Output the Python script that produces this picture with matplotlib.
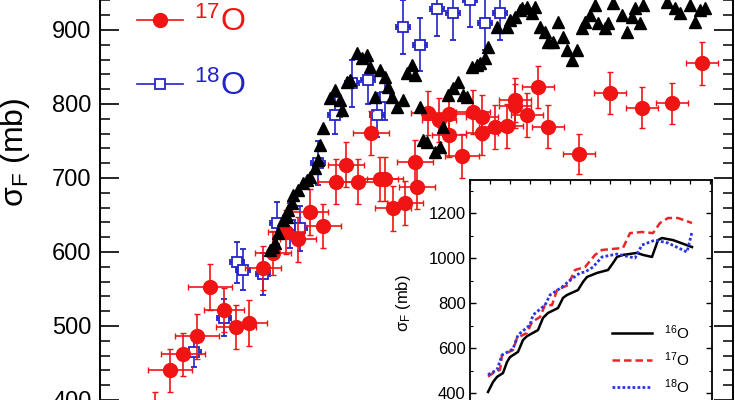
import matplotlib
matplotlib.use("Agg")
import matplotlib.pyplot as plt
from matplotlib.lines import Line2D
from matplotlib.ticker import MultipleLocator
import numpy as np

plt.rcParams['font.family'] = ['Liberation Sans', 'DejaVu Sans']
plt.rcParams['mathtext.fontset'] = 'custom'
plt.rcParams['mathtext.rm'] = 'Liberation Sans'
plt.rcParams['mathtext.it'] = 'Liberation Sans'
plt.rcParams['mathtext.default'] = 'regular'

# ---------------- main panel data (energy in arbitrary MeV-like units, sigma in mb)
E16 = [13.5, 13.65, 13.75, 13.9, 14.15, 14.35, 14.4, 14.6, 14.65, 14.9,
       15.15, 15.35, 15.5, 15.75, 15.9, 16.0, 16.15, 16.5, 16.75, 17.0,
       17.1, 17.35, 17.5, 17.85, 18.1, 18.35, 18.5, 18.75, 19.0, 19.25,
       19.4, 19.6, 19.85, 20.15, 20.35, 20.6, 20.75, 21.0, 21.15, 21.35,
       21.75, 22.0, 22.15, 22.4, 22.65, 22.9, 23.15, 23.35, 23.6, 23.85,
       24.0, 24.25, 24.4, 24.85, 25.35, 25.5, 25.75, 26.0, 26.1, 26.35,
       26.6, 26.75, 27.0, 27.25, 27.4, 27.65, 27.9, 28.15, 28.35, 28.6,
       28.85, 29.1, 29.25, 29.5, 29.75, 29.9, 30.25, 30.4, 30.65, 31.1,
       31.35, 31.6, 31.75, 32.0, 32.15, 33.35, 33.75, 34.0, 34.5, 34.75,
       35.0, 35.25]
S16 = [603, 607, 612, 626, 643, 647, 657, 666, 677, 684,
       693, 697, 701, 713, 724, 745, 768, 808, 819, 805,
       792, 830, 832, 869, 862, 866, 850, 809, 846, 836,
       823, 809, 796, 805, 842, 853, 839, 796, 751, 749,
       735, 742, 769, 812, 822, 830, 812, 809, 850, 853,
       855, 862, 877, 904, 904, 913, 918, 927, 930, 931,
       923, 931, 904, 897, 884, 884, 911, 891, 873, 859,
       873, 903, 911, 920, 934, 909, 903, 909, 936, 920,
       897, 918, 930, 909, 934, 938, 930, 923, 934, 911,
       927, 930]

E17 = [7.75, 8.5, 9.15, 9.85, 10.5, 11.2, 11.8, 12.45, 13.15, 13.65,
       14.3, 14.9, 15.5, 16.15, 16.8, 17.3, 17.9, 18.55, 19.0, 19.25,
       19.65, 20.25, 20.75, 20.85, 21.4, 21.95, 22.45, 22.45, 23.1, 23.65,
       24.1, 24.1, 24.75, 25.35, 25.75, 25.75, 26.35, 26.9, 27.4, 28.95,
       30.5, 32.1, 33.6, 35.1]
S17 = [381, 440, 462, 486, 553, 522, 499, 504, 578, 599,
       627, 617, 654, 635, 695, 718, 695, 761, 699, 699,
       659, 666, 722, 688, 788, 778, 786, 758, 730, 789,
       782, 761, 769, 770, 805, 797, 785, 823, 769, 732,
       815, 795, 801, 855]
S17_err = [30, 29, 29, 30, 31, 30, 30, 31, 30, 30,
           30, 30, 31, 30, 30, 30, 30, 30, 30, 30,
           30, 30, 30, 30, 30, 30, 30, 30, 30, 30,
           30, 30, 30, 30, 30, 30, 30, 29, 29, 27,
           28, 28, 28, 29]
E17_err = [1.1, 1.1, 1.1, 1.1, 1.1, 1.0, 1.0, 0.9, 0.9, 0.9,
           0.9, 0.9, 0.9, 0.9, 0.9, 0.9, 0.9, 0.9, 0.9, 0.9,
           0.9, 0.9, 0.9, 0.9, 0.85, 0.85, 0.85, 0.85, 0.85, 0.85,
           0.8, 0.8, 0.8, 0.8, 0.8, 0.8, 0.8, 0.8, 0.8, 0.8,
           0.8, 0.8, 0.8, 0.8]

E18 = [9.7, 11.2, 11.85, 12.15, 13.15, 13.85, 14.5, 15.0, 15.9, 16.75,
       17.6, 18.4, 18.85, 19.25, 20.15, 21.0, 21.85, 22.65, 23.5, 24.25,
       25.0]
S18 = [465, 511, 586, 576, 570, 639, 636, 632, 720, 785,
       828, 832, 785, 809, 904, 880, 928, 923, 940, 909,
       923]
S18_err = [20, 25, 28, 28, 28, 28, 30, 30, 30, 25,
           32, 32, 30, 30, 36, 36, 36, 36, 36, 36,
           36]
E18_err = [0.35] * len(E18)

# ---------------- inset data
Ein16 = [1.8, 2.3, 2.7, 3.3, 3.7, 4.0, 4.8, 5.3, 5.7, 6.8, 7.3, 7.8, 8.8, 9.3,
         9.7, 10.8, 11.3, 11.7, 12.7, 13.8, 14.3, 14.7, 15.3, 16.7, 17.3,
         18.2, 18.8, 19.2, 20.3, 22.2]
Sin16 = [406, 450, 473, 490, 539, 561, 584, 637, 654, 681, 735, 757, 779, 824,
         837, 859, 895, 917, 935, 948, 979, 1006, 1015, 1024, 1015,
         1006, 1081, 1090, 1081, 1050]
Ein17 = [1.8, 2.3, 3.0, 3.2, 4.3, 4.7, 5.7, 6.2, 7.0, 7.5, 8.2, 8.7, 9.8, 10.5,
         11.5, 12.5, 13.2, 15.3, 16.0, 17.2, 18.3, 19.0, 19.8, 20.8, 22.2]
Sin17 = [474, 490, 504, 570, 592, 646, 668, 717, 739, 792, 792, 859, 881, 948,
         961, 1015, 1037, 1046, 1112, 1117, 1112, 1157, 1179, 1179, 1157]
Ein18 = [1.8, 2.7, 3.2, 4.3, 4.8, 6.0, 6.3, 7.5, 8.0, 9.2, 10.0, 11.0, 11.5,
         12.3, 13.2, 14.7, 16.5, 17.2, 18.5, 19.8, 21.7, 22.2]
Sin18 = [483, 504, 570, 597, 659, 704, 748, 792, 837, 872, 903, 935, 939,
         961, 1006, 1019, 1001, 1059, 1081, 1068, 1028, 1117]

main_yticks = [400, 500, 600, 700, 800, 900]
inset_yticks = [400, 600, 800, 1000, 1200]

RED = '#f01414'
BLUE = '#2323c8'

fig = plt.figure(figsize=(7.35, 4.0), dpi=100)
W, H = 735.0, 400.0

# main axes: left spine at x=100px, right at 733px; y 380..960 extends past the crop
ax = fig.add_axes([100 / W, -14.8 / H, 633 / W, 429.2 / H])
ax.set_xlim(5, 36.65)
ax.set_ylim(380, 960)

ax.errorbar(E18, S18, yerr=S18_err, xerr=E18_err, fmt='s', ms=7.5, mfc='white',
            mec=BLUE, mew=1.3, ecolor=BLUE, elinewidth=1.2, capsize=2, zorder=2)
ax.errorbar(E17, S17, yerr=S17_err, xerr=E17_err, fmt='o', ms=10, color=RED,
            mec=RED, ecolor=RED, elinewidth=1.2, capsize=2, zorder=3)
ax.plot(E16, S16, '^', color='black', ms=8.5, zorder=4, linestyle='none')

ax.set_yticks(main_yticks)
ax.yaxis.set_minor_locator(MultipleLocator(20))
ax.tick_params(axis='y', which='major', direction='in', length=14, width=1.2,
               labelsize=17, right=True, pad=6)
ax.tick_params(axis='y', which='minor', direction='in', length=7.5, width=1.1,
               right=True)
ax.tick_params(axis='x', bottom=False, labelbottom=False)
for s in ax.spines.values():
    s.set_linewidth(1.4)
ax.set_ylabel(r'$\sigma_F$ (mb)', fontsize=23)
ax.yaxis.set_label_coords(-0.108, 0.612)

handles = [Line2D([], [], color=RED, marker='o', ms=10, lw=1.2),
           Line2D([], [], color=BLUE, marker='s', ms=7.5, mfc='white', mew=1.3, lw=1.2)]
leg = fig.legend(handles, [r'$^{17}$O', r'$^{18}$O'], loc='upper left',
                 bbox_to_anchor=(137 / W, 1 - 7 / H), frameon=False,
                 fontsize=23, handlelength=1.45, handletextpad=0.35,
                 labelspacing=1.02, borderpad=0, borderaxespad=0)
for t, c in zip(leg.get_texts(), [RED, BLUE]):
    t.set_color(c)

# inset axes
ax2 = fig.add_axes([470 / W, -15.8 / H, 242 / W, 235.8 / H])
ax2.set_zorder(10)
ax2.set_facecolor('white')
ax2.set_xlim(0, 24.2)
ax2.set_ylim(300, 1348)
ax2.plot(Ein16, Sin16, color='black', lw=1.8, label=r'$^{16}$O')
ax2.plot(Ein17, Sin17, color='#e8262a', lw=1.8, ls=(0, (3, 1.6)), label=r'$^{17}$O')
ax2.plot(Ein18, Sin18, color='#2a35e0', lw=2.0, ls=(0, (1, 0.8)), label=r'$^{18}$O')
ax2.set_yticks(inset_yticks)
ax2.yaxis.set_minor_locator(MultipleLocator(100))
ax2.xaxis.set_major_locator(MultipleLocator(2))
ax2.tick_params(axis='y', which='major', direction='in', length=4, width=1,
                labelsize=12, pad=3, right=True)
ax2.tick_params(axis='y', which='minor', direction='in', length=2, width=0.8, right=True)
ax2.tick_params(axis='x', which='major', direction='in', length=3, width=0.9,
                top=True, bottom=False, labelbottom=False)
for s in ax2.spines.values():
    s.set_linewidth(1.3)
ax2.set_ylabel(r'$\sigma_F$ (mb)', fontsize=12)
ax2.yaxis.set_label_coords(-0.236, 0.478)
leg2 = ax2.legend(loc='upper left', bbox_to_anchor=((612 - 470) / 242, (415.8 - 323) / 235.8),
                  frameon=False, fontsize=11, handlelength=2.6, handletextpad=0.8,
                  labelspacing=0.55, borderpad=0, borderaxespad=0)

fig.savefig('out.png', dpi=100)
